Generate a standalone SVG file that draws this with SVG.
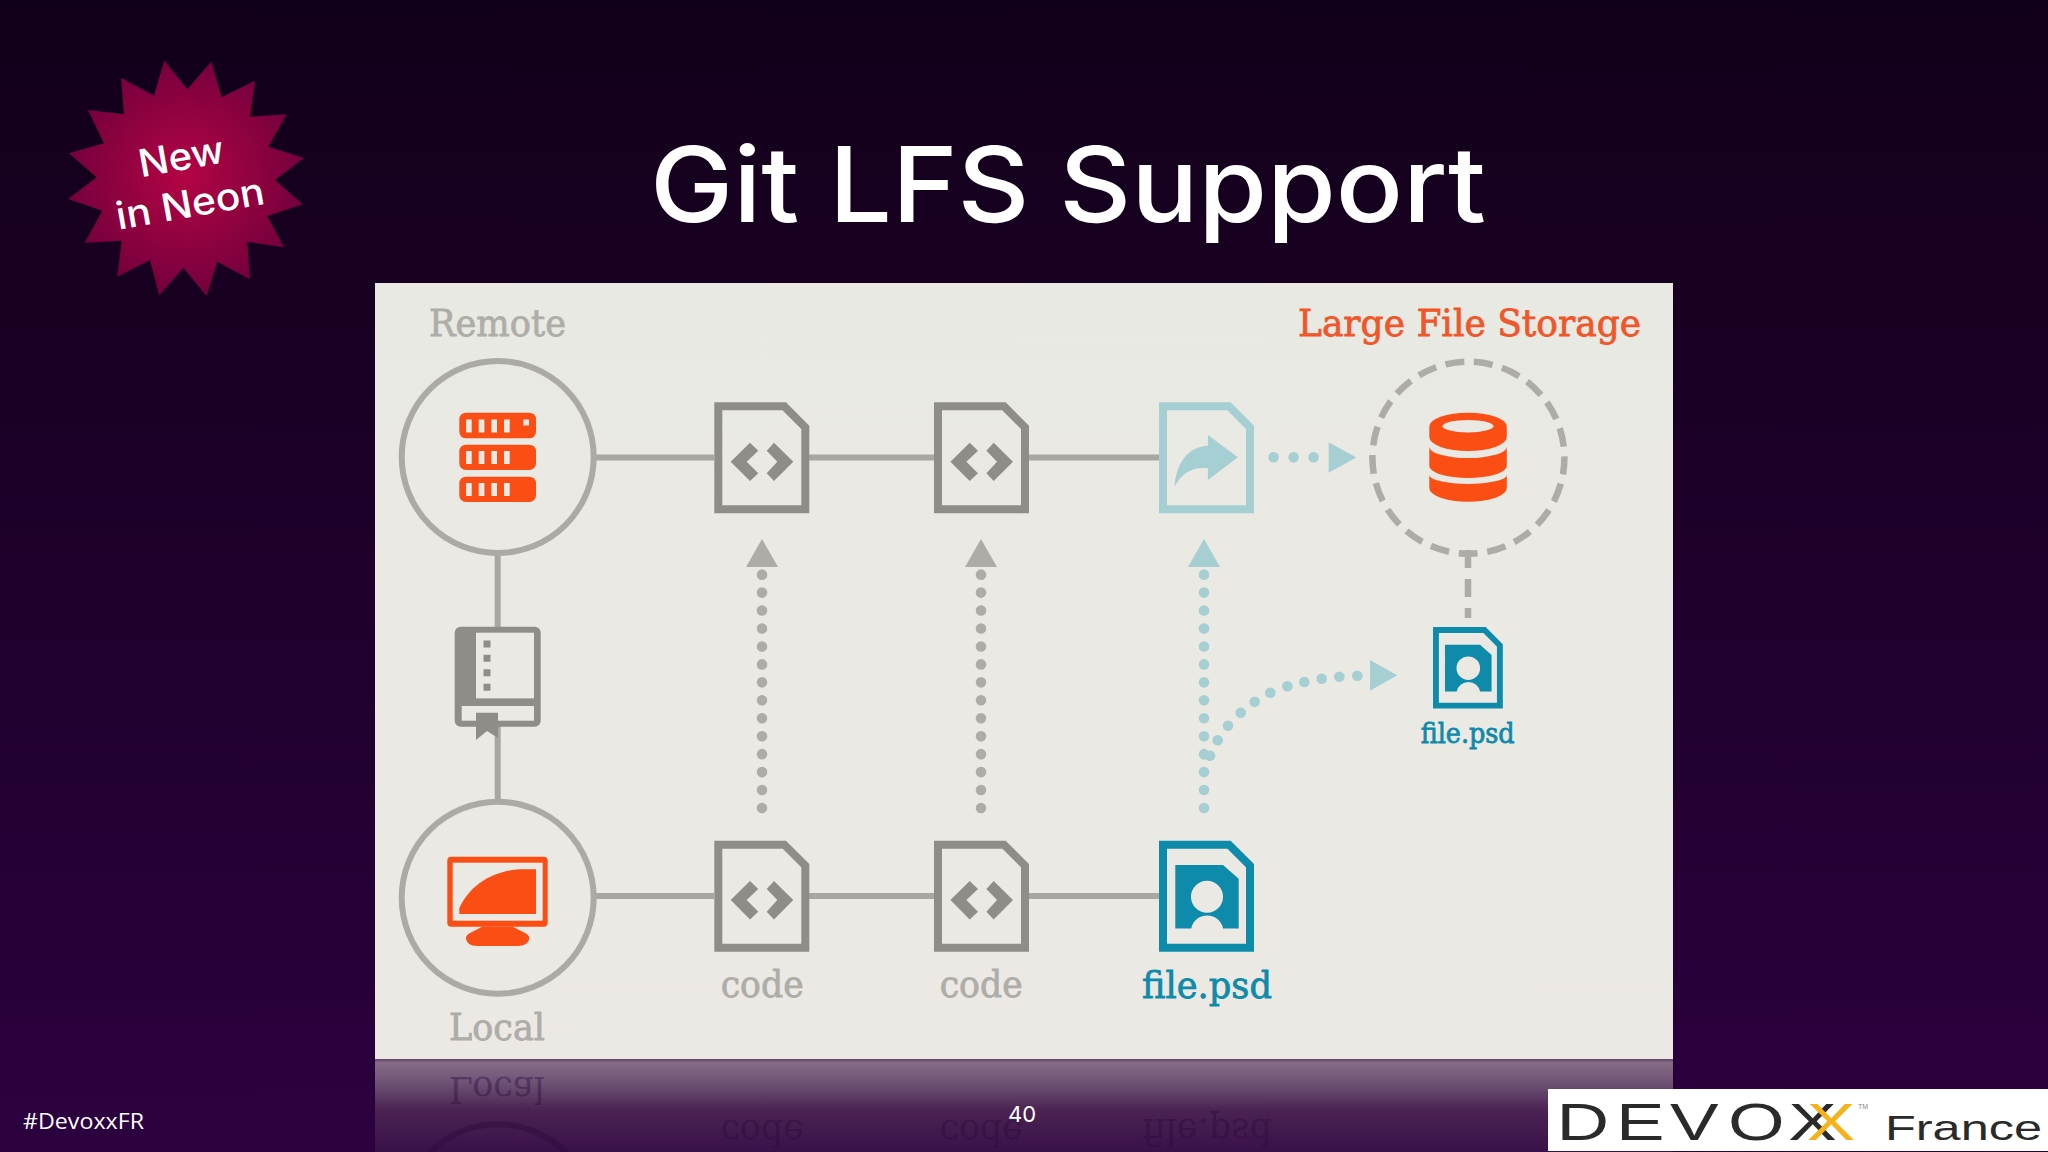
<svg xmlns="http://www.w3.org/2000/svg" xmlns:xlink="http://www.w3.org/1999/xlink" width="2048" height="1152" viewBox="0 0 2048 1152">
<style>
.sl{font-family:"DejaVu Serif","Liberation Serif",serif;stroke-width:.8}
.sans{font-family:Inter,"Noto Sans","Liberation Sans",sans-serif;fill:#fff}
.gt{fill:#AEADA7;stroke:#AEADA7}
.tl{fill:#0E8AAB}
.tt{stroke:#0E8AAB}
.or{fill:#FA4E15}
.line{stroke:#A8A7A1;stroke-width:6;fill:none}
.doc{fill:none;stroke-width:8;stroke-miterlimit:10}
.dg{fill:#8F8D87}
.dotg{stroke:#ADACA7;stroke-width:10.6;stroke-linecap:round;stroke-dasharray:0 17.95;fill:none}
.dott{stroke:#A6CFD3;stroke-width:10.6;stroke-linecap:round;stroke-dasharray:0 17.95;fill:none}
.ag{fill:#ADACA7}
.at{fill:#A6CFD3}
.pn{fill:#EBE9E4}
</style>
<defs>
<linearGradient id="bg" x1="0" y1="0" x2="0" y2="1"><stop offset="0" stop-color="#11001A"/><stop offset=".2" stop-color="#170020"/><stop offset=".6" stop-color="#21002F"/><stop offset="1" stop-color="#2C003F"/></linearGradient>
<linearGradient id="panel" x1="0" y1="0" x2="0" y2="1"><stop offset="0" stop-color="#E9E9E3"/><stop offset="1" stop-color="#ECE9E5"/></linearGradient>
<linearGradient id="refl" x1="0" y1="0" x2="0" y2="1"><stop offset="0" stop-color="#5E4268"/><stop offset=".04" stop-color="#866C87"/><stop offset=".25" stop-color="#6F5375"/><stop offset=".55" stop-color="#4A2352"/><stop offset="1" stop-color="#39114A"/></linearGradient>
<radialGradient id="burst" gradientUnits="userSpaceOnUse" cx="185" cy="175" r="125"><stop offset="0" stop-color="#B30444"/><stop offset="1" stop-color="#72003C"/></radialGradient>
<g id="codeDoc"><path class="doc" stroke="#8F8D87" d="M4 4H70L91 25V107H4Z"/><path class="dg" d="M16.4 59.4L35.7 40.4 44 48.4 32.4 59.4 44 71 35.7 78.7ZM79 59.4L59.7 40.4 52.4 48.4 63 59.4 52.4 71 59.7 78.7Z"/></g>
<g id="psdDoc"><path class="doc" stroke="#0E8AAB" d="M4 4H70L91 25V107H4Z"/><path class="tl" fill-rule="evenodd" d="M16.3 24.3H64L79.7 38V87.7H64A16 15 0 0 0 32.3 87.7H16.3ZM64 56A16 16 0 1 0 32 56 16 16 0 1 0 64 56Z"/></g>
</defs>
<rect width="2048" height="1152" fill="url(#bg)"/>
<rect x="375" y="1059" width="1298" height="93" fill="url(#refl)"/>
<g transform="translate(0,2118) scale(1,-1)" opacity=".4">
<circle cx="497.7" cy="897.7" r="96" fill="none" stroke="#2A0A3A" stroke-width="6"/>
<text class="sl" x="449" y="1041" font-size="38" fill="#2A0A3A" textLength="96" lengthAdjust="spacingAndGlyphs">Local</text>
<text class="sl" x="720.7" y="998" font-size="38" fill="#2A0A3A" textLength="83" lengthAdjust="spacingAndGlyphs">code</text>
<text class="sl" x="939.7" y="998" font-size="38" fill="#2A0A3A" textLength="83" lengthAdjust="spacingAndGlyphs">code</text>
<text class="sl" x="1142" y="999" font-size="38" fill="#2A0A3A" textLength="130" lengthAdjust="spacingAndGlyphs">file.psd</text>
</g>
<rect x="375" y="283" width="1298" height="776" fill="url(#panel)"/>
<g id="badge">
<polygon fill="url(#burst)" points="164.3,60.7 187.3,89.3 211.3,61.7 221.7,97.3 255,80.7 250,116.7 286.7,114.3 268.3,146.7 304,158 275,180 302.7,204.3 267.3,216 284,247.3 247.3,241.7 250,279.3 217.3,261.7 206.7,296 183.3,267.7 159.3,295.3 150,260 117.3,276.7 121.7,240.7 84.7,242.7 102.3,210.7 68.3,199 96.7,177.3 69,153.3 104,143.3 88,110 124,114.3 121,77.7 154,95.7"/>
<text class="sans" transform="rotate(-10 181 156)" x="181" y="170" font-size="38" font-weight="500" text-anchor="middle" textLength="86" lengthAdjust="spacingAndGlyphs">New</text>
<text class="sans" transform="rotate(-10 190 203)" x="190" y="217" font-size="38" font-weight="500" text-anchor="middle" textLength="150" lengthAdjust="spacingAndGlyphs">in Neon</text>
</g>
<text id="title" class="sans" x="650" y="222" font-size="104" font-weight="500" textLength="836" lengthAdjust="spacingAndGlyphs">Git LFS Support</text>
<g id="connectors">
<path class="line" d="M595 457.5H714M809 457.5H934M1029 457.5H1159M595 896H714M809 896H934M1029 896H1159M497.7 555V627M497.7 726V800"/>
<path d="M1468 550V568M1468 579V597M1468 608V618" stroke="#ADACA7" stroke-width="6.5" fill="none"/>
<path class="dotg" d="M762 808V574"/><polygon class="ag" points="762,539 778,567 746,567"/>
<path class="dotg" d="M981 808V574"/><polygon class="ag" points="981,539 997,567 965,567"/>
<path class="dott" d="M1204 808V574"/><polygon class="at" points="1204,539 1220,567 1188,567"/>
<g class="at"><circle cx="1210" cy="755.7" r="5.3"/><circle cx="1217.7" cy="740.3" r="5.3"/><circle cx="1228" cy="725.7" r="5.3"/><circle cx="1240.7" cy="712.7" r="5.3"/><circle cx="1254.7" cy="701.7" r="5.3"/><circle cx="1270.3" cy="692.7" r="5.3"/><circle cx="1287.3" cy="686.3" r="5.3"/><circle cx="1304.3" cy="682" r="5.3"/><circle cx="1321.7" cy="678.7" r="5.3"/><circle cx="1339.3" cy="676.7" r="5.3"/><circle cx="1357.3" cy="675.7" r="5.3"/></g>
<polygon class="at" points="1397.3,675.3 1370,660 1370,690.7"/>
<g class="at"><circle cx="1273.6" cy="457.3" r="5.3"/><circle cx="1293.6" cy="457.3" r="5.3"/><circle cx="1313.6" cy="457.3" r="5.3"/></g>
<polygon class="at" points="1356.4,457.5 1328.6,442.3 1328.6,472.7"/>
</g>
<g id="remote">
<circle cx="497.7" cy="457" r="96" fill="none" stroke="#ABAAA5" stroke-width="6"/>
<rect class="or" x="459.3" y="412.7" width="76.7" height="25.6" rx="6.5"/><rect class="or" x="459.3" y="444.7" width="76.7" height="25.3" rx="6.5"/><rect class="or" x="459.3" y="476.7" width="76.7" height="25.3" rx="6.5"/>
<path class="pn" d="M466 419.5h5.7v13h-5.7zM478.7 419.5h5.7v13h-5.7zM491.3 419.5h5.7v13h-5.7zM504 419.5h5.7v13h-5.7zM523.3 419.5h5.7v6h-5.7zM466 451h5.7v13h-5.7zM478.7 451h5.7v13h-5.7zM491.3 451h5.7v13h-5.7zM504 451h5.7v13h-5.7zM466 483h5.7v13h-5.7zM478.7 483h5.7v13h-5.7zM491.3 483h5.7v13h-5.7zM504 483h5.7v13h-5.7z"/>
<text class="sl gt" x="429" y="336" font-size="38" textLength="137" lengthAdjust="spacingAndGlyphs">Remote</text>
</g>
<g id="book">
<rect class="dg" x="454.7" y="626.7" width="86" height="100" rx="6"/>
<rect class="pn" x="476" y="632.7" width="58" height="65.7"/>
<rect class="pn" x="461.7" y="706" width="72.3" height="14.7"/>
<polygon class="dg" points="476,712.7 498,712.7 498,738 487,731 476,740"/>
<path class="dg" d="M483.5 640.5h7v7h-7zM483.5 654.8h7v7h-7zM483.5 669.2h7v7h-7zM483.5 683.8h7v7h-7z"/>
</g>
<g id="local">
<circle cx="497.7" cy="897.7" r="96" fill="none" stroke="#ABAAA5" stroke-width="6"/>
<rect class="or" x="447.3" y="856.7" width="100.4" height="70" rx="4"/>
<rect class="pn" x="452.7" y="862.7" width="90" height="58"/>
<path class="or" d="M459.3 914V908C470 885 492 871 520 869.3H536V914Z"/>
<path class="or" d="M482 926.7H513C520 931 529.3 933 529.3 938 529.3 943 524 946 518 946H477C471 946 466 943 466 938 466 933 475 931 482 926.7Z"/>
<text class="sl gt" x="449" y="1040" font-size="38" textLength="96" lengthAdjust="spacingAndGlyphs">Local</text>
</g>
<use id="remoteCode1" href="#codeDoc" x="714.3" y="402.3"/>
<use id="remoteCode2" href="#codeDoc" x="934" y="402.3"/>
<g id="pointer" transform="translate(1159,402.3)">
<path class="doc" stroke="#A6CFD3" d="M4 4H70L91 25V107H4Z"/>
<path class="at" d="M78.9 55L48.9 32.7V43.4C30 44 17 60 15.6 84.4 22 72 32 64.5 48.9 66V77.7Z"/>
</g>
<g id="lfs">
<circle cx="1468.4" cy="457.7" r="96" fill="none" stroke="#ADACA7" stroke-width="6.5" stroke-dasharray="19 9.72" stroke-dashoffset="2.3"/>
<path class="or" d="M1429.3 426.7a38.75 14 0 0 1 77.5 0V437a38.75 14 0 0 1-77.5 0Z"/>
<ellipse class="pn" cx="1468" cy="426.2" rx="25.5" ry="6.2"/>
<path class="or" d="M1429.3 447a38.75 11 0 0 0 77.5 0V466a38.75 12 0 0 1-77.5 0Z"/>
<path class="or" d="M1429.3 475a38.75 9 0 0 0 77.5 0V488a38.75 13.7 0 0 1-77.5 0Z"/>
<text class="sl" x="1298" y="336" font-size="38" fill="#F0562A" stroke="#F0562A" textLength="343" lengthAdjust="spacingAndGlyphs">Large File Storage</text>
</g>
<g id="localCode1"><use href="#codeDoc" x="714.3" y="840.7"/><text class="sl gt" x="720.7" y="997" font-size="38" textLength="83" lengthAdjust="spacingAndGlyphs">code</text></g>
<g id="localCode2"><use href="#codeDoc" x="934" y="840.7"/><text class="sl gt" x="939.7" y="997" font-size="38" textLength="83" lengthAdjust="spacingAndGlyphs">code</text></g>
<g id="filePsd"><use href="#psdDoc" x="1159" y="840.7"/><text class="sl tl tt" x="1142" y="998" font-size="38" textLength="130" lengthAdjust="spacingAndGlyphs">file.psd</text></g>
<g id="filePsdLfs"><use href="#psdDoc" transform="translate(1433,627) scale(.735)"/><text class="sl tl tt" x="1420.7" y="742.7" font-size="28" textLength="94" lengthAdjust="spacingAndGlyphs">file.psd</text></g>
<text id="hashtag" class="sans" x="23" y="1129" font-size="22" textLength="121" lengthAdjust="spacingAndGlyphs" style="font-family:'Open Sans','Noto Sans',sans-serif">#DevoxxFR</text>
<text id="pageNum" class="sans" x="1022" y="1122" font-size="22" text-anchor="middle">40</text>
<g id="logo" font-family="'Liberation Sans',Arial,sans-serif">
<rect x="1548" y="1089" width="500" height="62" fill="#fff"/>
<g transform="translate(1562,1140) scale(1.4,1)" font-size="52"><text x="-4 38.6 77.1 118.5 161.6" y="0" fill="#2A2A2A">DEVOX</text><text x="174.8" y="0" fill="#F5B21A">X</text></g>
<text x="1858" y="1109" font-size="7" fill="#888">TM</text>
<text x="1885" y="1140" font-size="35" fill="#2A2A2A" textLength="157" lengthAdjust="spacingAndGlyphs">France</text>
</g>
</svg>
